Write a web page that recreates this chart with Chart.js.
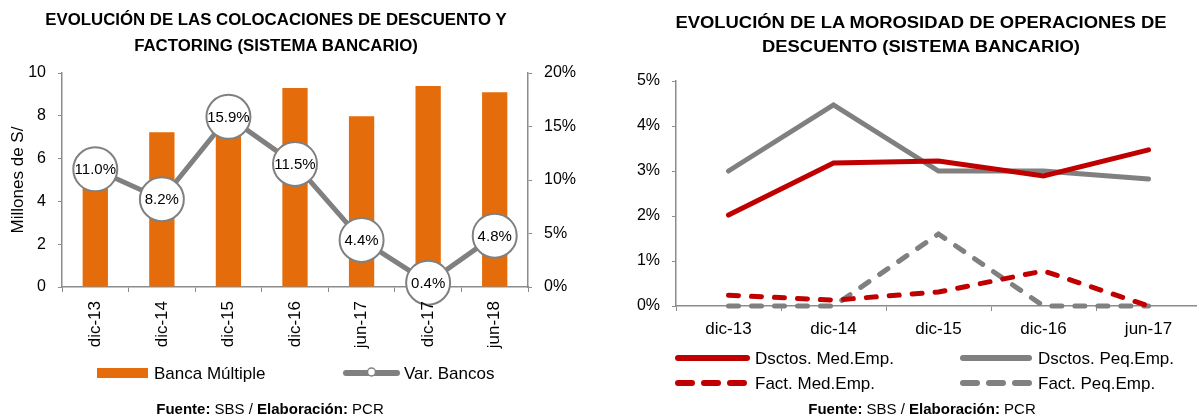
<!DOCTYPE html>
<html>
<head>
<meta charset="utf-8">
<script src="https://cdn.jsdelivr.net/npm/chart.js@4.4.1/dist/chart.umd.min.js"></script>
<style>
  body { margin: 0; width: 1197px; height: 418px; overflow: hidden; background: #fff; position: relative;
         font-family: "Liberation Sans", Arial, sans-serif; color: #000; }
  .box { position: absolute; top: 0; height: 418px; }
  .title { position: absolute; font-weight: bold; font-size: 16px; text-align: center; white-space: nowrap; }
  .foot { position: absolute; top: 400px; font-size: 15px; line-height: 17px; text-align: center; white-space: nowrap; }
</style>
</head>
<body>
<div class="box" style="left:0;width:600px"><canvas id="chartLeft"></canvas></div>
<div class="box" style="left:600px;width:610px"><canvas id="chartRight"></canvas></div>

<div class="title" style="left:0;width:552px;top:7px;line-height:26px;transform:scaleX(1.05)">EVOLUCIÓN DE LAS COLOCACIONES DE DESCUENTO Y<br>FACTORING (SISTEMA BANCARIO)</div>
<div class="title" style="left:600px;width:642px;top:11px;line-height:24px;transform:scaleX(1.15)">EVOLUCIÓN DE LA MOROSIDAD DE OPERACIONES DE<br>DESCUENTO (SISTEMA BANCARIO)</div>

<div class="foot" style="left:0;width:540px"><b>Fuente:</b> SBS / <b>Elaboración:</b> PCR</div>
<div class="foot" style="left:600px;width:644px"><b>Fuente:</b> SBS / <b>Elaboración:</b> PCR</div>

<script>
// ---- data: left chart ----
const catsLeft = ['dic-13', 'dic-14', 'dic-15', 'dic-16', 'jun-17', 'dic-17', 'jun-18'];
const bancaMultiple = [6.0, 7.23, 8.4, 9.3, 7.98, 9.39, 9.1];   // millones de S/
const varBancos = [11.0, 8.2, 15.9, 11.5, 4.4, 0.4, 4.8];        // %

// ---- data: right chart ----
const catsRight = ['dic-13', 'dic-14', 'dic-15', 'dic-16', 'jun-17'];
const dsctosMed = [2.02, 3.18, 3.22, 2.89, 3.47];
const dsctosPeq = [3.0, 4.47, 3.0, 3.0, 2.82];
const factMed = [0.24, 0.13, 0.31, 0.78, 0.0];
const factPeq = [0.0, 0.0, 1.6, 0.0, 0.0];

const ORANGE = '#E46C0A';
const GRAY = '#808080';
const RED = '#C00000';
const AXIS = '#8c8c8c';
const FONT = '"Liberation Sans", Arial, sans-serif';

Chart.defaults.font.family = FONT;
Chart.defaults.font.size = 16;
Chart.defaults.color = '#000';

// numbers inside the circles
const circleLabels = {
  id: 'circleLabels',
  afterDatasetsDraw(chart) {
    const meta = chart.getDatasetMeta(1);
    const ctx = chart.ctx;
    ctx.save();
    ctx.font = '15px ' + FONT;
    ctx.fillStyle = '#000';
    ctx.textAlign = 'center';
    ctx.textBaseline = 'middle';
    meta.data.forEach((pt, i) => {
      ctx.fillText(varBancos[i].toFixed(1) + '%', pt.x, pt.y + 1);
    });
    ctx.restore();
  }
};

// legend laid out in fixed columns
const gridLegend = {
  id: 'gridLegend',
  afterDraw(chart, args, opts) {
    const ctx = chart.ctx;
    ctx.save();
    ctx.font = '17px ' + FONT;
    ctx.textBaseline = 'middle';
    ctx.textAlign = 'left';
    opts.items.forEach(it => {
      const ds = chart.data.datasets[it.index];
      const type = ds.type || chart.config.type;
      if (type === 'bar') {
        ctx.fillStyle = ds.backgroundColor;
        ctx.fillRect(it.x, it.y - 5, it.w, 10);
      } else {
        ctx.strokeStyle = ds.borderColor;
        ctx.lineWidth = 6;
        ctx.lineCap = 'round';
        ctx.setLineDash(ds.borderDash && ds.borderDash.length ? [14, 12] : []);
        ctx.beginPath();
        ctx.moveTo(it.x + 3, it.y);
        ctx.lineTo(it.x + it.w - 3, it.y);
        ctx.stroke();
        ctx.setLineDash([]);
        if (it.marker) {
          ctx.fillStyle = '#fff';
          ctx.lineWidth = 1.5;
          ctx.beginPath();
          ctx.arc(it.x + it.w / 2, it.y - 1, 4, 0, Math.PI * 2);
          ctx.fill();
          ctx.stroke();
        }
      }
      ctx.fillStyle = '#000';
      ctx.fillText(ds.label, it.x + it.w + it.gap, it.y + 1);
    });
    ctx.restore();
  }
};

new Chart(document.getElementById('chartLeft'), {
  type: 'bar',
  data: {
    labels: catsLeft,
    datasets: [
      {
        label: 'Banca Múltiple',
        data: bancaMultiple,
        backgroundColor: ORANGE,
        yAxisID: 'y',
        barPercentage: 0.38,
        categoryPercentage: 1,
        order: 2
      },
      {
        type: 'line',
        label: 'Var. Bancos',
        data: varBancos,
        yAxisID: 'y2',
        borderColor: GRAY,
        borderWidth: 5,
        pointRadius: 22,
        pointHoverRadius: 22,
        pointBackgroundColor: '#fff',
        pointBorderColor: GRAY,
        pointBorderWidth: 2,
        tension: 0,
        clip: false,
        order: 1
      }
    ]
  },
  options: {
    responsive: true,
    maintainAspectRatio: false,
    animation: false,
    layout: { padding: { top: 73, left: 0, right: 0, bottom: 0 } },
    plugins: {
      legend: { display: false },
      tooltip: { enabled: false },
      gridLegend: {
        items: [
          { index: 0, x: 97, y: 373, w: 51, gap: 6 },
          { index: 1, x: 343, y: 373, w: 57, gap: 4, marker: true }
        ]
      }
    },
    scales: {
      x: {
        offset: true,
        grid: { offset: true, drawOnChartArea: false, drawTicks: true, tickLength: 5, color: AXIS },
        border: { color: AXIS, width: 1.5 },
        ticks: { z: 1, minRotation: 90, maxRotation: 90, padding: 9, font: { size: 17 } },
        afterFit: s => { s.height = 131; }
      },
      y: {
        position: 'left',
        min: 0, max: 10,
        ticks: { stepSize: 2, padding: 12 },
        grid: { drawOnChartArea: false, tickLength: 4, color: AXIS },
        border: { color: AXIS, width: 1.5 },
        title: { display: true, text: 'Millones de S/', font: { size: 17 }, padding: { top: 8, bottom: 0 } },
        afterFit: s => { s.width = 62; }
      },
      y2: {
        position: 'right',
        min: 0, max: 20,
        ticks: { stepSize: 5, padding: 12, callback: v => v + '%' },
        grid: { drawOnChartArea: false, tickLength: 4, color: AXIS },
        border: { color: AXIS, width: 1.5 },
        afterFit: s => { s.width = 72; }
      }
    }
  },
  plugins: [circleLabels, gridLegend]
});

const lineDs = (label, data, color, dashed) => ({
  label,
  data,
  borderColor: color,
  backgroundColor: color,
  borderWidth: 5,
  borderDash: dashed ? [10, 13] : [],
  borderCapStyle: 'round',
  pointRadius: 0,
  tension: 0,
  clip: false
});

new Chart(document.getElementById('chartRight'), {
  type: 'line',
  data: {
    labels: catsRight,
    datasets: [
      lineDs('Dsctos. Med.Emp.', dsctosMed, RED, false),
      lineDs('Dsctos. Peq.Emp.', dsctosPeq, GRAY, false),
      lineDs('Fact. Med.Emp.', factMed, RED, true),
      lineDs('Fact. Peq.Emp.', factPeq, GRAY, true)
    ]
  },
  options: {
    responsive: true,
    maintainAspectRatio: false,
    animation: false,
    layout: { padding: { top: 81, left: 0, right: 9, bottom: 0 } },
    plugins: {
      legend: { display: false },
      tooltip: { enabled: false },
      gridLegend: {
        items: [
          { index: 0, x: 75, y: 358, w: 75, gap: 5 },
          { index: 1, x: 360, y: 358, w: 72, gap: 6 },
          { index: 2, x: 75, y: 383, w: 75, gap: 5 },
          { index: 3, x: 360, y: 383, w: 72, gap: 6 }
        ]
      }
    },
    scales: {
      x: {
        offset: true,
        grid: { offset: true, drawOnChartArea: false, drawTicks: true, tickLength: 5, color: AXIS },
        border: { color: AXIS, width: 1.5 },
        ticks: { padding: 8, font: { size: 17 } },
        afterFit: s => { s.height = 112; }
      },
      y: {
        min: 0, max: 5,
        ticks: { stepSize: 1, padding: 12, callback: v => v + '%' },
        grid: { drawOnChartArea: false, tickLength: 4, color: AXIS },
        border: { color: AXIS, width: 1.5 },
        afterFit: s => { s.width = 76; }
      }
    }
  },
  plugins: [gridLegend]
});
</script>
</body>
</html>
